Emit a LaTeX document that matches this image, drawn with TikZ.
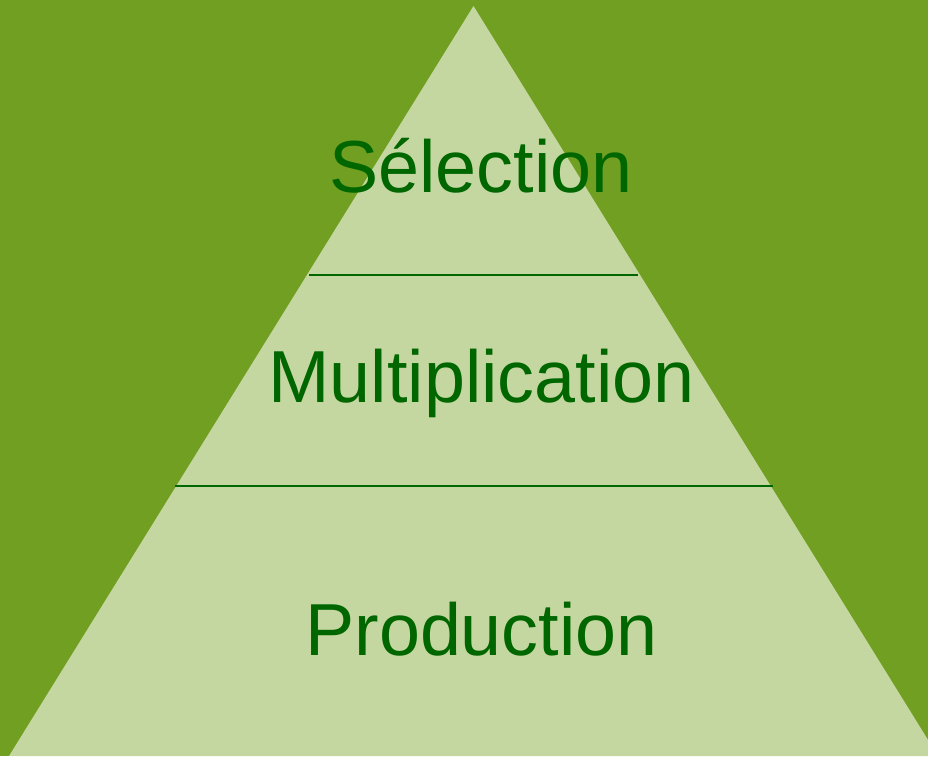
\documentclass[tikz,border=0pt]{standalone}
\usepackage{fontspec}
\setmainfont{Liberation Sans}
\usepackage{xcolor}
\usepackage{tikz}
\usetikzlibrary{calc}
\definecolor{leaf}{HTML}{709F22}
\definecolor{pale}{HTML}{C5D7A0}
\definecolor{deep}{HTML}{006600}
\tikzset{
  level/.style={fill=pale, draw=none},
  sep/.style={draw=deep, line width=2pt},
  word/.style={text=deep, anchor=base, inner sep=0pt, font=\fontsize{73.7}{80}\selectfont},
}
\begin{document}
\begin{tikzpicture}[x=1pt,y=-1pt]
  \useasboundingbox (0,0) rectangle (928,756);
  \clip (0,0) rectangle (928,756);
  \fill[leaf] (0,0) rectangle (928,756);
  \coordinate (apex) at (473.5,6);
  \coordinate (bl) at (9,756);
  \coordinate (br) at (938,756);
  \fill[level] (apex)--(bl)--(br)--cycle;
  % separators
  \coordinate (s1l) at (309,275);
  \coordinate (s1r) at (638,275);
  \coordinate (s2l) at (175,486);
  \coordinate (s2r) at (773,486);
  \draw[sep] (s1l)--(s1r);
  \draw[sep] (s2l)--(s2r);
  \node[word] (sel) at (481,192) {Sélection};
  \node[word] (mul) at (481.5,402) {Multiplication};
  \node[word] (prod) at (481.5,655) {Production};
\end{tikzpicture}
\end{document}
